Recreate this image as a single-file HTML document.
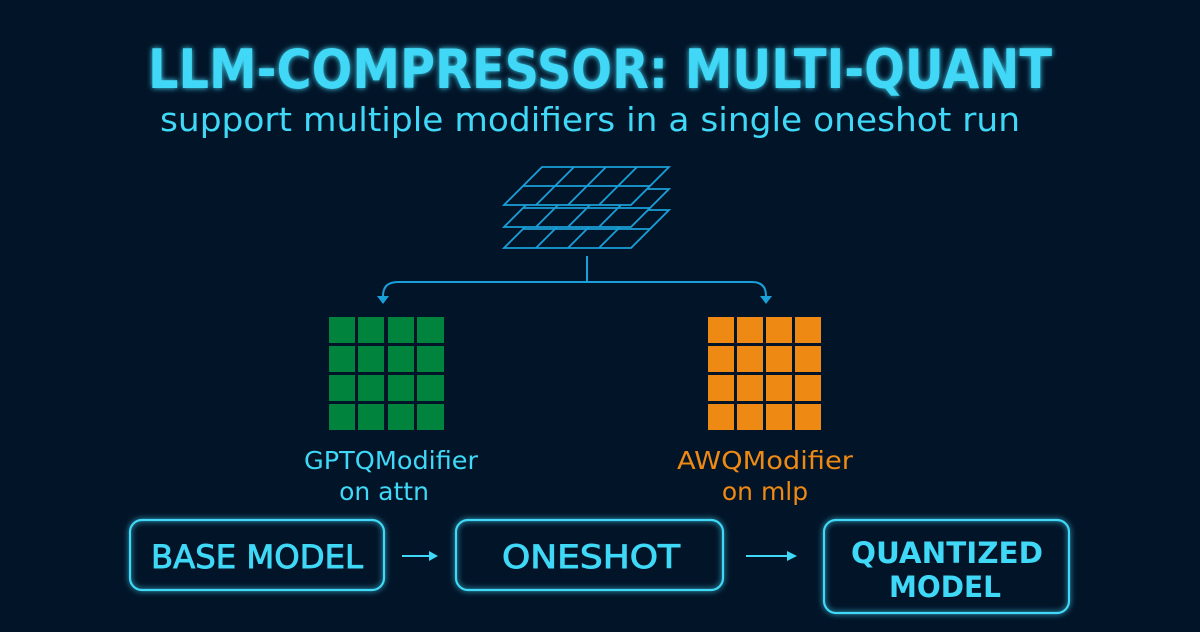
<!DOCTYPE html>
<html><head><meta charset="utf-8"><style>
html,body{margin:0;padding:0;background:#021428;}
body{width:1200px;height:627px;overflow:hidden;}
text{font-family:"DejaVu Sans","Liberation Sans",sans-serif;}
</style></head><body>
<svg width="1200" height="627" viewBox="0 0 1200 627" xmlns="http://www.w3.org/2000/svg">
<defs>
<filter id="glow" x="-20%" y="-20%" width="140%" height="140%">
<feGaussianBlur stdDeviation="3" result="b"/>
<feMerge><feMergeNode in="b"/><feMergeNode in="SourceGraphic"/></feMerge>
</filter>
<g id="layer">
<polygon points="542,0 669,0 631,38 504,38" fill="#021428" stroke="#1aa0d8" stroke-width="1.8"/>
<line x1="523" y1="19" x2="650" y2="19" stroke="#1aa0d8" stroke-width="1.8"/>
<line x1="574" y1="0" x2="536" y2="38" stroke="#1aa0d8" stroke-width="1.8"/>
<line x1="606" y1="0" x2="568" y2="38" stroke="#1aa0d8" stroke-width="1.8"/>
<line x1="637" y1="0" x2="599" y2="38" stroke="#1aa0d8" stroke-width="1.8"/>
</g>
</defs>
<rect width="1200" height="627" fill="#021428"/>
<text x="600" y="88" text-anchor="middle" font-size="54" font-weight="bold" fill="#3fd8f6" filter="url(#glow)" textLength="904" lengthAdjust="spacingAndGlyphs">LLM-COMPRESSOR: MULTI-QUANT</text>
<text x="590" y="131" text-anchor="middle" font-size="33" fill="#3fd8f6" textLength="860" lengthAdjust="spacingAndGlyphs">support multiple modifiers in a single oneshot run</text>

<use href="#layer" y="210"/>
<use href="#layer" y="189"/>
<use href="#layer" y="167"/>

<g stroke="#1aa0d8" stroke-width="2" fill="none">
<line x1="587" y1="256" x2="587" y2="282"/>
<path d="M750,282 H398 Q383,282 383,296"/>
<path d="M587,282 H752 Q766,282 766,296"/>
</g>
<polygon points="377,296 389,296 383,304" fill="#1aa0d8"/>
<polygon points="760,296 772,296 766,304" fill="#1aa0d8"/>

<g fill="#00843d">
<rect x="329" y="317" width="26" height="26"/><rect x="358" y="317" width="26" height="26"/><rect x="388" y="317" width="26" height="26"/><rect x="417" y="317" width="27" height="26"/>
<rect x="329" y="346" width="26" height="26"/><rect x="358" y="346" width="26" height="26"/><rect x="388" y="346" width="26" height="26"/><rect x="417" y="346" width="27" height="26"/>
<rect x="329" y="375" width="26" height="26"/><rect x="358" y="375" width="26" height="26"/><rect x="388" y="375" width="26" height="26"/><rect x="417" y="375" width="27" height="26"/>
<rect x="329" y="404" width="26" height="26"/><rect x="358" y="404" width="26" height="26"/><rect x="388" y="404" width="26" height="26"/><rect x="417" y="404" width="27" height="26"/>
</g>
<g fill="#ee8a14">
<rect x="708" y="317" width="26" height="26"/><rect x="737" y="317" width="26" height="26"/><rect x="766" y="317" width="26" height="26"/><rect x="795" y="317" width="26" height="26"/>
<rect x="708" y="346" width="26" height="26"/><rect x="737" y="346" width="26" height="26"/><rect x="766" y="346" width="26" height="26"/><rect x="795" y="346" width="26" height="26"/>
<rect x="708" y="375" width="26" height="26"/><rect x="737" y="375" width="26" height="26"/><rect x="766" y="375" width="26" height="26"/><rect x="795" y="375" width="26" height="26"/>
<rect x="708" y="404" width="26" height="26"/><rect x="737" y="404" width="26" height="26"/><rect x="766" y="404" width="26" height="26"/><rect x="795" y="404" width="26" height="26"/>
</g>

<text x="391" y="469" text-anchor="middle" font-size="25" fill="#3fd8f6" textLength="174" lengthAdjust="spacingAndGlyphs">GPTQModifier</text>
<text x="384" y="500" text-anchor="middle" font-size="25" fill="#3fd8f6">on attn</text>
<text x="765" y="469" text-anchor="middle" font-size="25" fill="#ee8a14" textLength="176" lengthAdjust="spacingAndGlyphs">AWQModifier</text>
<text x="765" y="500" text-anchor="middle" font-size="25" fill="#ee8a14">on mlp</text>

<g fill="none" stroke="#3fd8f6" stroke-width="2.2" filter="url(#glow)">
<rect x="130" y="520" width="254" height="70" rx="12"/>
<rect x="456" y="520" width="267" height="70" rx="12"/>
<rect x="824" y="520" width="245" height="93" rx="12"/>
</g>
<g stroke="#3fd8f6" stroke-width="2">
<line x1="402" y1="556" x2="430" y2="556"/>
<line x1="746" y1="556" x2="789" y2="556"/>
</g>
<polygon points="429,551 438,556 429,561" fill="#3fd8f6"/>
<polygon points="787,551 797,556 787,561" fill="#3fd8f6"/>

<g font-size="32" fill="#3fd8f6" stroke="#3fd8f6" stroke-width="0.9" text-anchor="middle">
<text x="257" y="568" textLength="212" lengthAdjust="spacingAndGlyphs">BASE MODEL</text>
<text x="591" y="568" textLength="178" lengthAdjust="spacingAndGlyphs">ONESHOT</text>
</g>
<g font-size="29" fill="#3fd8f6" font-weight="bold" text-anchor="middle">
<text x="947" y="563" textLength="192" lengthAdjust="spacingAndGlyphs">QUANTIZED</text>
<text x="945" y="597" textLength="112" lengthAdjust="spacingAndGlyphs">MODEL</text>
</g>
</svg>
</body></html>
